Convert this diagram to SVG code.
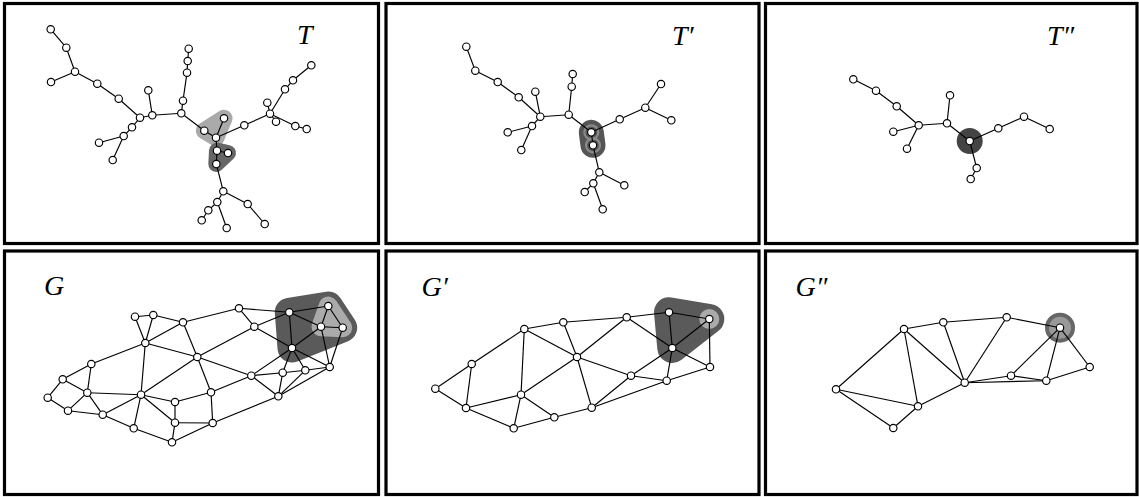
<svg xmlns="http://www.w3.org/2000/svg" width="1139" height="497" viewBox="0 0 1139 497">
<style>
.frame{fill:#fff;stroke:#000;stroke-width:3.2}
.e line{stroke:#000;stroke-width:1.15}
.n circle{fill:#fff;stroke:#000;stroke-width:1.15}
.lbl{font-family:"Liberation Serif","DejaVu Serif",serif;font-style:italic;font-size:28px;fill:#000}
.hl{fill:#aaa;stroke:#aaa;stroke-linejoin:round}
.hd{fill:#5a5a5a;stroke:#5a5a5a;stroke-linejoin:round}
</style>
<rect width="1139" height="497" fill="#fff"/>
<g id="frames">
<rect class="frame" x="4.5" y="3.5" width="374" height="240"/>
<rect class="frame" x="386" y="3.5" width="373" height="240"/>
<rect class="frame" x="765.5" y="3.5" width="371.5" height="240"/>
<rect class="frame" x="4.5" y="251" width="374" height="243.5"/>
<rect class="frame" x="386" y="251" width="373" height="243.5"/>
<rect class="frame" x="765.5" y="251" width="371.5" height="243.5"/>
</g>
<g id="hulls">
<polygon class="hl" stroke-width="17" points="204.3,130.7 224,118.3 216,137.7"/>
<polygon class="hd" stroke-width="16" points="217,150.7 228,153 216.3,164" style="fill:#666;stroke:#666"/>
<line x1="591.3" y1="132.3" x2="593" y2="145.3" stroke="#555" stroke-width="25" stroke-linecap="round"/>
<circle cx="591.3" cy="132.3" r="7" fill="none" stroke="#8a8a8a" stroke-width="2.2"/>
<circle cx="593" cy="145.3" r="7" fill="none" stroke="#8a8a8a" stroke-width="2.2"/>
<circle cx="969.7" cy="141" r="13" fill="#444"/>
<polygon class="hd" stroke-width="29" points="289.3,312.3 328.3,306 342.7,327.7 292,348"/>
<polygon class="hl" stroke-width="19" points="328.3,306 321,326.7 342.7,327.7"/>
<polygon class="hd" stroke-width="30" points="669,312.3 709.3,319 672.3,348"/>
<circle cx="709.3" cy="319" r="10" fill="#aaa"/>
<circle cx="1060" cy="327.7" r="15" fill="#666"/>
<circle cx="1060" cy="327.7" r="11" fill="#999"/>
</g>
<g id="connectors" class="e">
<!-- T -->
<line x1="50.7" y1="29.3" x2="66.3" y2="47.7"/>
<line x1="66.3" y1="47.7" x2="75" y2="71.7"/>
<line x1="75" y1="71.7" x2="51" y2="82"/>
<line x1="75" y1="71.7" x2="97.3" y2="83.7"/>
<line x1="97.3" y1="83.7" x2="118.7" y2="98.7"/>
<line x1="118.7" y1="98.7" x2="140" y2="117.7"/>
<line x1="140" y1="117.7" x2="152.3" y2="115.3"/>
<line x1="148.3" y1="90.3" x2="152.3" y2="115.3"/>
<line x1="140" y1="117.7" x2="132" y2="127.3"/>
<line x1="132" y1="127.3" x2="123.7" y2="136"/>
<line x1="123.7" y1="136" x2="99" y2="142.7"/>
<line x1="123.7" y1="136" x2="112.7" y2="160"/>
<line x1="152.3" y1="115.3" x2="181.3" y2="113.3"/>
<line x1="181.3" y1="113.3" x2="183" y2="100.7"/>
<line x1="183" y1="100.7" x2="187" y2="72.7"/>
<line x1="187" y1="72.7" x2="187.7" y2="61"/>
<line x1="187.7" y1="61" x2="188.7" y2="48.7"/>
<line x1="181.3" y1="113.3" x2="204.3" y2="130.7"/>
<line x1="204.3" y1="130.7" x2="216" y2="137.7"/>
<line x1="224" y1="118.3" x2="216" y2="137.7"/>
<line x1="216" y1="137.7" x2="217" y2="150.7"/>
<line x1="217" y1="150.7" x2="228" y2="153"/>
<line x1="217" y1="150.7" x2="216.3" y2="164"/>
<line x1="216" y1="137.7" x2="244.3" y2="125.3"/>
<line x1="244.3" y1="125.3" x2="270" y2="113.7"/>
<line x1="270" y1="113.7" x2="267.3" y2="102.7"/>
<line x1="270" y1="113.7" x2="276" y2="121.7"/>
<line x1="270" y1="113.7" x2="285" y2="89.3"/>
<line x1="285" y1="89.3" x2="293" y2="80.3"/>
<line x1="293" y1="80.3" x2="311.3" y2="65.3"/>
<line x1="270" y1="113.7" x2="295.3" y2="126"/>
<line x1="295.3" y1="126" x2="306.7" y2="129"/>
<line x1="216.3" y1="164" x2="223.3" y2="191.3"/>
<line x1="223.3" y1="191.3" x2="217.3" y2="202"/>
<line x1="217.3" y1="202" x2="208.3" y2="210.3"/>
<line x1="208.3" y1="210.3" x2="201.7" y2="220.3"/>
<line x1="217.3" y1="202" x2="226.7" y2="228"/>
<line x1="223.3" y1="191.3" x2="247.7" y2="204"/>
<line x1="247.7" y1="204" x2="264.7" y2="224"/>
<!-- T' -->
<line x1="466.3" y1="46.7" x2="475.3" y2="70.7"/>
<line x1="475.3" y1="70.7" x2="497.7" y2="82"/>
<line x1="497.7" y1="82" x2="518.7" y2="97.3"/>
<line x1="518.7" y1="97.3" x2="540.3" y2="116.7"/>
<line x1="535.3" y1="91.7" x2="540.3" y2="116.7"/>
<line x1="540.3" y1="116.7" x2="532" y2="126"/>
<line x1="532" y1="126" x2="507.7" y2="132.3"/>
<line x1="532" y1="126" x2="521.3" y2="150"/>
<line x1="540.3" y1="116.7" x2="568.7" y2="114.7"/>
<line x1="568.7" y1="114.7" x2="571.7" y2="86.7"/>
<line x1="571.7" y1="86.7" x2="572.7" y2="74"/>
<line x1="568.7" y1="114.7" x2="591.3" y2="132.3"/>
<line x1="591.3" y1="132.3" x2="593" y2="145.3"/>
<line x1="591.3" y1="132.3" x2="619.7" y2="119.3"/>
<line x1="619.7" y1="119.3" x2="645.3" y2="107.7"/>
<line x1="645.3" y1="107.7" x2="661" y2="84"/>
<line x1="645.3" y1="107.7" x2="671.3" y2="120.3"/>
<line x1="593" y1="145.3" x2="599.3" y2="172.3"/>
<line x1="599.3" y1="172.3" x2="593.3" y2="183.3"/>
<line x1="593.3" y1="183.3" x2="584.7" y2="192"/>
<line x1="593.3" y1="183.3" x2="602.7" y2="209.3"/>
<line x1="599.3" y1="172.3" x2="624.3" y2="185.3"/>
<!-- T'' -->
<line x1="853.3" y1="79.3" x2="876" y2="90.7"/>
<line x1="876" y1="90.7" x2="896.7" y2="106.3"/>
<line x1="896.7" y1="106.3" x2="918.7" y2="125.3"/>
<line x1="918.7" y1="125.3" x2="893.3" y2="131.7"/>
<line x1="918.7" y1="125.3" x2="907" y2="148.7"/>
<line x1="918.7" y1="125.3" x2="947" y2="123.3"/>
<line x1="947" y1="123.3" x2="950" y2="95.3"/>
<line x1="947" y1="123.3" x2="969.7" y2="141"/>
<line x1="969.7" y1="141" x2="998.3" y2="128.3"/>
<line x1="998.3" y1="128.3" x2="1024" y2="116.7"/>
<line x1="1024" y1="116.7" x2="1049.7" y2="129"/>
<line x1="969.7" y1="141" x2="976.7" y2="168"/>
<line x1="976.7" y1="168" x2="970.7" y2="179"/>
<!-- G -->
<line x1="135" y1="316.7" x2="153.3" y2="315"/>
<line x1="135" y1="316.7" x2="145.3" y2="343"/>
<line x1="153.3" y1="315" x2="145.3" y2="343"/>
<line x1="153.3" y1="315" x2="183" y2="322.3"/>
<line x1="183" y1="322.3" x2="145.3" y2="343"/>
<line x1="183" y1="322.3" x2="239" y2="308.3"/>
<line x1="183" y1="322.3" x2="197.3" y2="357"/>
<line x1="239" y1="308.3" x2="254.3" y2="326.7"/>
<line x1="239" y1="308.3" x2="289.3" y2="312.3"/>
<line x1="254.3" y1="326.7" x2="289.3" y2="312.3"/>
<line x1="254.3" y1="326.7" x2="292" y2="348"/>
<line x1="197.3" y1="357" x2="254.3" y2="326.7"/>
<line x1="145.3" y1="343" x2="197.3" y2="357"/>
<line x1="145.3" y1="343" x2="91.3" y2="364"/>
<line x1="145.3" y1="343" x2="141" y2="394.7"/>
<line x1="197.3" y1="357" x2="141" y2="394.7"/>
<line x1="197.3" y1="357" x2="251.3" y2="375.7"/>
<line x1="197.3" y1="357" x2="211" y2="392.3"/>
<line x1="289.3" y1="312.3" x2="328.3" y2="306"/>
<line x1="289.3" y1="312.3" x2="321" y2="326.7"/>
<line x1="289.3" y1="312.3" x2="292" y2="348"/>
<line x1="328.3" y1="306" x2="321" y2="326.7"/>
<line x1="328.3" y1="306" x2="342.7" y2="327.7"/>
<line x1="321" y1="326.7" x2="342.7" y2="327.7"/>
<line x1="321" y1="326.7" x2="292" y2="348"/>
<line x1="321" y1="326.7" x2="329.7" y2="367"/>
<line x1="342.7" y1="327.7" x2="329.7" y2="367"/>
<line x1="292" y1="348" x2="329.7" y2="367"/>
<line x1="292" y1="348" x2="305.3" y2="370.3"/>
<line x1="292" y1="348" x2="282.7" y2="372.7"/>
<line x1="292" y1="348" x2="251.3" y2="375.7"/>
<line x1="282.7" y1="372.7" x2="305.3" y2="370.3"/>
<line x1="305.3" y1="370.3" x2="329.7" y2="367"/>
<line x1="251.3" y1="375.7" x2="282.7" y2="372.7"/>
<line x1="251.3" y1="375.7" x2="278.3" y2="396.3"/>
<line x1="282.7" y1="372.7" x2="278.3" y2="396.3"/>
<line x1="305.3" y1="370.3" x2="278.3" y2="396.3"/>
<line x1="329.7" y1="367" x2="278.3" y2="396.3"/>
<line x1="211" y1="392.3" x2="251.3" y2="375.7"/>
<line x1="212.7" y1="423" x2="278.3" y2="396.3"/>
<line x1="91.3" y1="364" x2="62.7" y2="379.3"/>
<line x1="91.3" y1="364" x2="87.3" y2="392.7"/>
<line x1="62.7" y1="379.3" x2="47.7" y2="397.7"/>
<line x1="62.7" y1="379.3" x2="87.3" y2="392.7"/>
<line x1="47.7" y1="397.7" x2="68" y2="410.7"/>
<line x1="87.3" y1="392.7" x2="68" y2="410.7"/>
<line x1="87.3" y1="392.7" x2="141" y2="394.7"/>
<line x1="87.3" y1="392.7" x2="102.7" y2="414.7"/>
<line x1="68" y1="410.7" x2="102.7" y2="414.7"/>
<line x1="102.7" y1="414.7" x2="141" y2="394.7"/>
<line x1="102.7" y1="414.7" x2="133.7" y2="428.3"/>
<line x1="141" y1="394.7" x2="133.7" y2="428.3"/>
<line x1="141" y1="394.7" x2="175" y2="402"/>
<line x1="141" y1="394.7" x2="175" y2="422.7"/>
<line x1="175" y1="402" x2="211" y2="392.3"/>
<line x1="175" y1="402" x2="175" y2="422.7"/>
<line x1="211" y1="392.3" x2="212.7" y2="423"/>
<line x1="175" y1="422.7" x2="212.7" y2="423"/>
<line x1="175" y1="422.7" x2="172" y2="442.3"/>
<line x1="133.7" y1="428.3" x2="172" y2="442.3"/>
<line x1="172" y1="442.3" x2="212.7" y2="423"/>
<!-- G' -->
<line x1="435.3" y1="388.7" x2="471.7" y2="364"/>
<line x1="435.3" y1="388.7" x2="466" y2="408"/>
<line x1="471.7" y1="364" x2="466" y2="408"/>
<line x1="471.7" y1="364" x2="524.3" y2="329"/>
<line x1="524.3" y1="329" x2="563.3" y2="322.3"/>
<line x1="524.3" y1="329" x2="521" y2="394.7"/>
<line x1="524.3" y1="329" x2="577" y2="357"/>
<line x1="563.3" y1="322.3" x2="577" y2="357"/>
<line x1="563.3" y1="322.3" x2="626.7" y2="317.3"/>
<line x1="626.7" y1="317.3" x2="669" y2="312.3"/>
<line x1="626.7" y1="317.3" x2="577" y2="357"/>
<line x1="626.7" y1="317.3" x2="672.3" y2="348"/>
<line x1="669" y1="312.3" x2="709.3" y2="319"/>
<line x1="669" y1="312.3" x2="672.3" y2="348"/>
<line x1="709.3" y1="319" x2="672.3" y2="348"/>
<line x1="709.3" y1="319" x2="710" y2="367"/>
<line x1="672.3" y1="348" x2="710" y2="367"/>
<line x1="672.3" y1="348" x2="631" y2="375.7"/>
<line x1="672.3" y1="348" x2="666.7" y2="380.7"/>
<line x1="577" y1="357" x2="631" y2="375.7"/>
<line x1="577" y1="357" x2="521" y2="394.7"/>
<line x1="577" y1="357" x2="591.7" y2="407.7"/>
<line x1="631" y1="375.7" x2="666.7" y2="380.7"/>
<line x1="631" y1="375.7" x2="591.7" y2="407.7"/>
<line x1="666.7" y1="380.7" x2="710" y2="367"/>
<line x1="591.7" y1="407.7" x2="666.7" y2="380.7"/>
<line x1="466" y1="408" x2="521" y2="394.7"/>
<line x1="466" y1="408" x2="513.7" y2="428.3"/>
<line x1="521" y1="394.7" x2="513.7" y2="428.3"/>
<line x1="521" y1="394.7" x2="554.3" y2="417.3"/>
<line x1="513.7" y1="428.3" x2="554.3" y2="417.3"/>
<line x1="554.3" y1="417.3" x2="591.7" y2="407.7"/>
<!-- G'' -->
<line x1="836" y1="389.3" x2="904" y2="329"/>
<line x1="836" y1="389.3" x2="918" y2="406.3"/>
<line x1="836" y1="389.3" x2="893.3" y2="428"/>
<line x1="918" y1="406.3" x2="893.3" y2="428"/>
<line x1="904" y1="329" x2="918" y2="406.3"/>
<line x1="904" y1="329" x2="943.3" y2="322.3"/>
<line x1="904" y1="329" x2="964.7" y2="382.7"/>
<line x1="943.3" y1="322.3" x2="1006.7" y2="317.3"/>
<line x1="943.3" y1="322.3" x2="964.7" y2="382.7"/>
<line x1="1006.7" y1="317.3" x2="1060" y2="327.7"/>
<line x1="1006.7" y1="317.3" x2="964.7" y2="382.7"/>
<line x1="1060" y1="327.7" x2="1011" y2="375.7"/>
<line x1="1060" y1="327.7" x2="1046.3" y2="380.7"/>
<line x1="1060" y1="327.7" x2="1089.7" y2="367"/>
<line x1="1089.7" y1="367" x2="1046.3" y2="380.7"/>
<line x1="1046.3" y1="380.7" x2="1011" y2="375.7"/>
<line x1="964.7" y1="382.7" x2="1046.3" y2="380.7"/>
<line x1="964.7" y1="382.7" x2="1011" y2="375.7"/>
<line x1="964.7" y1="382.7" x2="918" y2="406.3"/>
</g>
<g id="tree-T" class="n">
<circle cx="50.7" cy="29.3" r="3.7"/><circle cx="66.3" cy="47.7" r="3.7"/><circle cx="75" cy="71.7" r="3.7"/><circle cx="51" cy="82" r="3.7"/>
<circle cx="97.3" cy="83.7" r="3.7"/><circle cx="118.7" cy="98.7" r="3.7"/><circle cx="140" cy="117.7" r="3.7"/><circle cx="148.3" cy="90.3" r="3.7"/>
<circle cx="152.3" cy="115.3" r="3.7"/><circle cx="132" cy="127.3" r="3.7"/><circle cx="123.7" cy="136" r="3.7"/><circle cx="99" cy="142.7" r="3.7"/>
<circle cx="112.7" cy="160" r="3.7"/><circle cx="181.3" cy="113.3" r="3.7"/><circle cx="183" cy="100.7" r="3.7"/><circle cx="187" cy="72.7" r="3.7"/>
<circle cx="187.7" cy="61" r="3.7"/><circle cx="188.7" cy="48.7" r="3.7"/><circle cx="204.3" cy="130.7" r="3.7"/><circle cx="224" cy="118.3" r="3.7"/>
<circle cx="216" cy="137.7" r="3.7"/><circle cx="217" cy="150.7" r="3.7"/><circle cx="228" cy="153" r="3.7"/><circle cx="216.3" cy="164" r="3.7"/>
<circle cx="244.3" cy="125.3" r="3.7"/><circle cx="270" cy="113.7" r="3.7"/><circle cx="267.3" cy="102.7" r="3.7"/><circle cx="276" cy="121.7" r="3.7"/>
<circle cx="285" cy="89.3" r="3.7"/><circle cx="293" cy="80.3" r="3.7"/><circle cx="311.3" cy="65.3" r="3.7"/><circle cx="295.3" cy="126" r="3.7"/>
<circle cx="306.7" cy="129" r="3.7"/><circle cx="223.3" cy="191.3" r="3.7"/><circle cx="217.3" cy="202" r="3.7"/><circle cx="208.3" cy="210.3" r="3.7"/>
<circle cx="201.7" cy="220.3" r="3.7"/><circle cx="226.7" cy="228" r="3.7"/><circle cx="247.7" cy="204" r="3.7"/><circle cx="264.7" cy="224" r="3.7"/>
<text class="lbl" x="297" y="44">T</text>
</g>
<g id="tree-T1" class="n">
<circle cx="466.3" cy="46.7" r="3.7"/><circle cx="475.3" cy="70.7" r="3.7"/><circle cx="497.7" cy="82" r="3.7"/><circle cx="518.7" cy="97.3" r="3.7"/>
<circle cx="535.3" cy="91.7" r="3.7"/><circle cx="540.3" cy="116.7" r="3.7"/><circle cx="532" cy="126" r="3.7"/><circle cx="507.7" cy="132.3" r="3.7"/>
<circle cx="521.3" cy="150" r="3.7"/><circle cx="568.7" cy="114.7" r="3.7"/><circle cx="571.7" cy="86.7" r="3.7"/><circle cx="572.7" cy="74" r="3.7"/>
<circle cx="591.3" cy="132.3" r="3.7"/><circle cx="593" cy="145.3" r="3.7"/><circle cx="619.7" cy="119.3" r="3.7"/><circle cx="645.3" cy="107.7" r="3.7"/>
<circle cx="661" cy="84" r="3.7"/><circle cx="671.3" cy="120.3" r="3.7"/><circle cx="599.3" cy="172.3" r="3.7"/><circle cx="593.3" cy="183.3" r="3.7"/>
<circle cx="584.7" cy="192" r="3.7"/><circle cx="602.7" cy="209.3" r="3.7"/><circle cx="624.3" cy="185.3" r="3.7"/>
<text class="lbl" x="672" y="45">T′</text>
</g>
<g id="tree-T2" class="n">
<circle cx="853.3" cy="79.3" r="3.7"/><circle cx="876" cy="90.7" r="3.7"/><circle cx="896.7" cy="106.3" r="3.7"/><circle cx="918.7" cy="125.3" r="3.7"/>
<circle cx="893.3" cy="131.7" r="3.7"/><circle cx="907" cy="148.7" r="3.7"/><circle cx="947" cy="123.3" r="3.7"/><circle cx="950" cy="95.3" r="3.7"/>
<circle cx="969.7" cy="141" r="3.7"/><circle cx="998.3" cy="128.3" r="3.7"/><circle cx="1024" cy="116.7" r="3.7"/><circle cx="1049.7" cy="129" r="3.7"/>
<circle cx="976.7" cy="168" r="3.7"/><circle cx="970.7" cy="179" r="3.7"/>
<text class="lbl" x="1047" y="45">T″</text>
</g>
<g id="graph-G" class="n">
<circle cx="135" cy="316.7" r="3.7"/><circle cx="153.3" cy="315" r="3.7"/><circle cx="183" cy="322.3" r="3.7"/><circle cx="239" cy="308.3" r="3.7"/>
<circle cx="254.3" cy="326.7" r="3.7"/><circle cx="289.3" cy="312.3" r="3.7"/><circle cx="328.3" cy="306" r="3.7"/><circle cx="321" cy="326.7" r="3.7"/>
<circle cx="342.7" cy="327.7" r="3.7"/><circle cx="292" cy="348" r="3.7"/><circle cx="329.7" cy="367" r="3.7"/><circle cx="305.3" cy="370.3" r="3.7"/>
<circle cx="282.7" cy="372.7" r="3.7"/><circle cx="251.3" cy="375.7" r="3.7"/><circle cx="278.3" cy="396.3" r="3.7"/><circle cx="145.3" cy="343" r="3.7"/>
<circle cx="197.3" cy="357" r="3.7"/><circle cx="91.3" cy="364" r="3.7"/><circle cx="62.7" cy="379.3" r="3.7"/><circle cx="47.7" cy="397.7" r="3.7"/>
<circle cx="87.3" cy="392.7" r="3.7"/><circle cx="68" cy="410.7" r="3.7"/><circle cx="102.7" cy="414.7" r="3.7"/><circle cx="141" cy="394.7" r="3.7"/>
<circle cx="175" cy="402" r="3.7"/><circle cx="211" cy="392.3" r="3.7"/><circle cx="133.7" cy="428.3" r="3.7"/><circle cx="175" cy="422.7" r="3.7"/>
<circle cx="212.7" cy="423" r="3.7"/><circle cx="172" cy="442.3" r="3.7"/>
<text class="lbl" x="44" y="295">G</text>
</g>
<g id="graph-G1" class="n">
<circle cx="435.3" cy="388.7" r="3.7"/><circle cx="471.7" cy="364" r="3.7"/><circle cx="466" cy="408" r="3.7"/><circle cx="524.3" cy="329" r="3.7"/>
<circle cx="563.3" cy="322.3" r="3.7"/><circle cx="626.7" cy="317.3" r="3.7"/><circle cx="669" cy="312.3" r="3.7"/><circle cx="709.3" cy="319" r="3.7"/>
<circle cx="672.3" cy="348" r="3.7"/><circle cx="577" cy="357" r="3.7"/><circle cx="521" cy="394.7" r="3.7"/><circle cx="513.7" cy="428.3" r="3.7"/>
<circle cx="554.3" cy="417.3" r="3.7"/><circle cx="591.7" cy="407.7" r="3.7"/><circle cx="631" cy="375.7" r="3.7"/><circle cx="666.7" cy="380.7" r="3.7"/>
<circle cx="710" cy="367" r="3.7"/>
<text class="lbl" x="421.5" y="295.5">G′</text>
</g>
<g id="graph-G2" class="n">
<circle cx="836" cy="389.3" r="3.7"/><circle cx="904" cy="329" r="3.7"/><circle cx="943.3" cy="322.3" r="3.7"/><circle cx="1006.7" cy="317.3" r="3.7"/>
<circle cx="1060" cy="327.7" r="3.7"/><circle cx="1089.7" cy="367" r="3.7"/><circle cx="1046.3" cy="380.7" r="3.7"/><circle cx="1011" cy="375.7" r="3.7"/>
<circle cx="964.7" cy="382.7" r="3.7"/><circle cx="918" cy="406.3" r="3.7"/><circle cx="893.3" cy="428" r="3.7"/>
<text class="lbl" x="795.5" y="295.5">G″</text>
</g>
</svg>
